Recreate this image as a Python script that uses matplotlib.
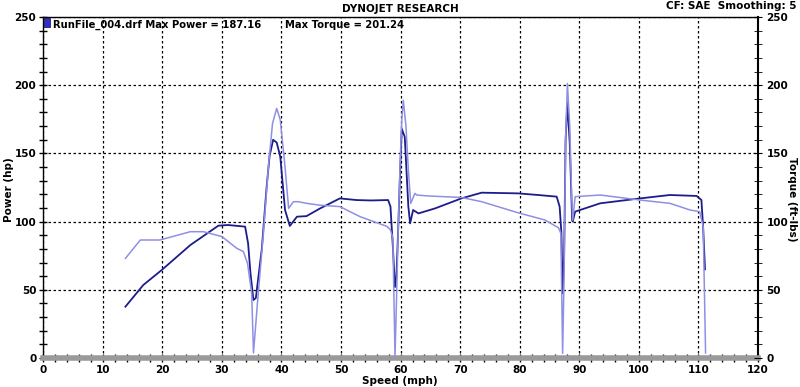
import matplotlib
matplotlib.use("Agg")
import matplotlib.pyplot as plt
from matplotlib.patches import Rectangle
from matplotlib.ticker import MultipleLocator


# power (hp), dark line
speed_power = [13.8, 16.8, 19.9, 24.7, 29.4, 31.0, 33.9, 34.4, 34.8, 35.3,
               35.7, 36.7, 37.5, 38.0, 38.6, 39.2, 39.8, 40.6, 41.4, 42.6,
               44.2, 46.5, 49.8, 52.6, 55.0, 57.9, 58.3, 58.7, 59.06, 59.3,
               59.6, 59.9, 60.2, 60.7, 61.3, 61.6, 62.1, 63.0, 65.8, 70.2,
               73.6, 79.7, 83.1, 86.2, 86.7, 87.0, 87.2, 87.45, 87.7, 88.0,
               88.4, 88.8, 88.9, 89.3, 93.5, 100.2, 105.2, 109.7, 110.5, 110.8,
               111.1]
power = [37.6, 53.5, 64.5, 82.8, 97.0, 97.5, 96.3, 84.0, 62.0, 42.5,
         44.0, 80.0, 125.0, 148.0, 160.0, 158.0, 147.6, 108.5, 96.8, 103.6,
         104.0, 109.7, 117.0, 115.8, 115.5, 115.8, 111.0, 81.6, 52.0, 60.0,
         95.0, 135.0, 168.0, 162.0, 111.0, 98.7, 108.5, 106.0, 109.7, 117.0,
         121.2, 120.7, 119.5, 118.3, 111.0, 91.4, 47.4, 75.0, 160.0, 187.2,
         157.0, 101.0, 100.0, 107.3, 113.4, 117.0, 119.5, 118.8, 115.8, 95.0,
         65.0]

# torque (ft-lbs), light line
speed_torque = [13.8, 16.3, 19.6, 24.7, 26.9, 30.0, 32.5, 33.6, 34.3, 35.0,
                35.3, 35.6, 36.0, 37.0, 37.8, 38.5, 39.2, 39.8, 40.6, 41.2,
                42.0, 42.8, 44.2, 46.5, 49.8, 53.2, 57.7, 58.3, 58.7, 59.06,
                59.3, 59.6, 59.9, 60.2, 60.45, 60.9, 61.3, 61.7, 62.4, 62.7,
                64.6, 70.2, 73.6, 79.7, 84.2, 86.5, 86.9, 87.2, 87.45, 87.7,
                88.0, 88.4, 88.7, 88.9, 89.3, 93.5, 100.2, 105.2, 108.6, 110.2,
                110.8, 111.2]
torque = [73.0, 86.5, 86.5, 92.6, 92.6, 89.0, 80.4, 78.0, 69.4, 47.4,
          3.7, 20.0, 42.0, 93.0, 140.0, 172.0, 183.0, 174.5, 140.0, 109.7,
          114.6, 114.6, 113.4, 112.0, 111.0, 103.6, 96.5, 94.0, 88.0, 1.0,
          40.0, 95.0, 140.0, 175.0, 189.0, 170.0, 138.0, 113.4, 120.7, 119.5,
          118.8, 117.7, 114.6, 106.5, 101.2, 95.5, 91.4, 3.4, 60.0, 160.0,
          201.2, 170.0, 120.7, 101.0, 118.3, 119.5, 115.8, 113.4, 108.5, 107.3,
          96.3, 3.7]

DARK = "#1c1c8c"
LIGHT = "#8f8fe4"
FS = 7.5


def style_axis(ax):
    ax.set_xlim(0, 120)
    ax.set_ylim(0, 250)
    ax.xaxis.set_major_locator(MultipleLocator(10))
    ax.xaxis.set_minor_locator(MultipleLocator(2))
    ax.yaxis.set_major_locator(MultipleLocator(50))
    ax.yaxis.set_minor_locator(MultipleLocator(10))
    ax.tick_params(axis="both", which="both", direction="inout", colors="black",
                   labelsize=FS, width=1)
    ax.tick_params(axis="both", which="major", length=6, pad=2)
    ax.tick_params(axis="both", which="minor", length=6)
    for lab in ax.get_xticklabels() + ax.get_yticklabels():
        lab.set_fontweight("bold")


fig = plt.figure(figsize=(8.0, 3.87), dpi=100)
ax = fig.add_axes([0.054, 0.075, 0.8935, 0.881])

ax.grid(True, which="major", color="black", linestyle=(0, (2, 2)), linewidth=0.9)
ax.plot(speed_power, power, color=DARK, linewidth=1.3, zorder=3)
ax.plot(speed_torque, torque, color=LIGHT, linewidth=1.1, zorder=4)

style_axis(ax)
ax.tick_params(axis="y", right=True, which="both")

ax.spines["bottom"].set_color("#9a9a9a")
ax.spines["bottom"].set_linewidth(4)
ax.spines["left"].set_linewidth(1)
ax.spines["right"].set_linewidth(1.5)
ax.spines["top"].set_linewidth(1)

# right-side labels
ax2 = ax.twinx()
ax2.set_ylim(0, 250)
ax2.yaxis.set_major_locator(MultipleLocator(50))
ax2.yaxis.set_minor_locator(MultipleLocator(10))
ax2.tick_params(axis="y", which="both", direction="inout", length=6, labelsize=FS, pad=3)
for lab in ax2.get_yticklabels():
    lab.set_fontweight("bold")
for s in ax2.spines.values():
    s.set_visible(False)

fig.text(0.5, 0.016, "Speed (mph)", ha="center", va="center",
         fontsize=FS, fontweight="bold")
fig.text(0.011, 0.51, "Power (hp)", ha="center", va="center", rotation=90,
         fontsize=FS, fontweight="bold")
fig.text(0.99, 0.485, "Torque (ft-lbs)", ha="center", va="center", rotation=-90,
         fontsize=FS, fontweight="bold")

fig.text(0.5, 0.978, "DYNOJET RESEARCH", ha="center", va="center",
         fontsize=FS, fontweight="bold")
fig.text(0.996, 0.984, "CF: SAE  Smoothing: 5", ha="right", va="center",
         fontsize=FS, fontweight="bold")

ax.add_patch(Rectangle((0.1, 242.5), 1.0, 7.0, facecolor="#3030c8",
                       edgecolor="#202060", linewidth=0.6, zorder=5, clip_on=False))
ax.text(1.7, 244.5, "RunFile_004.drf Max Power = 187.16", fontsize=7.2,
        fontweight="bold", va="center", ha="left", zorder=6)
ax.text(40.6, 244.5, "Max Torque = 201.24", fontsize=7.2,
        fontweight="bold", va="center", ha="left", zorder=6)

fig.savefig("out.png", dpi=100)
